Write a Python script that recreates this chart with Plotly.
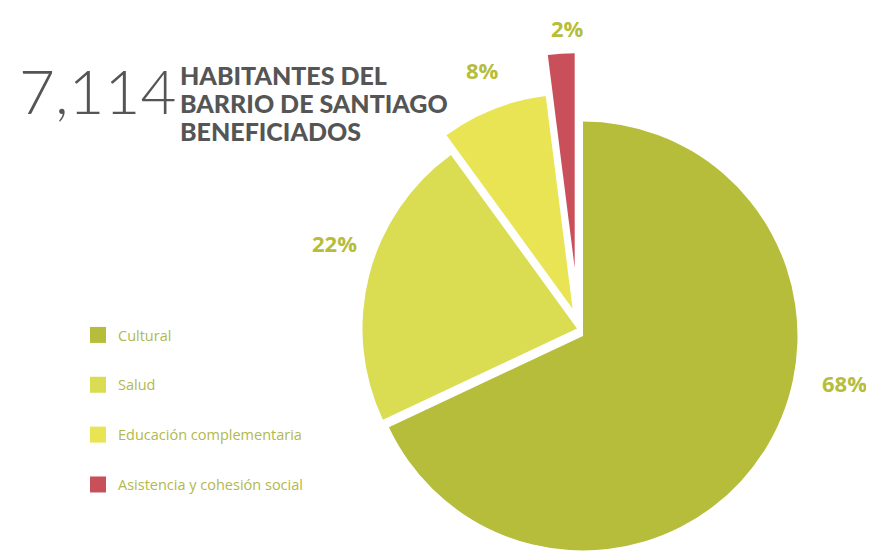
import plotly.graph_objects as go

# ---- data ----
CATEGORIES = ["Cultural", "Salud", "Educación complementaria", "Asistencia y cohesión social"]
VALUES = [68, 22, 8, 2]
COLORS = ["#b6bd3b", "#dadc51", "#e9e454", "#c9505a"]
TOTAL_LABEL = "7,114"
TITLE_LINES = ["HABITANTES DEL", "BARRIO DE SANTIAGO", "BENEFICIADOS"]

# ---- layout constants (pixels, in window coordinates) ----
W, H = 874, 551
PAGE_OFFSET = 8          # default body margin of the page
PIE_CENTER = (583, 336)
PIE_R = 214.5
SLICE_SHIFT = [(0, 0), (-6, -7.5), (-10.4, -27.3), (-8.3, -68.2)]
LABEL_POS = [(844, 383), (334, 243), (482, 70), (567, 28)]
TRANSPARENT = "rgba(0,0,0,0)"


def px_x(x):
    return (x - PAGE_OFFSET) / W


def px_y(y):
    return 1 - (y - PAGE_OFFSET) / H


fig = go.Figure()

# one pie per category (same values so angles match), only its own slice painted,
# each drawn around its own (pulled-out) center
for i, cat in enumerate(CATEGORIES):
    dx, dy = SLICE_SHIFT[i]
    cx, cy = PIE_CENTER[0] + dx, PIE_CENTER[1] + dy
    cols = [COLORS[j] if j == i else TRANSPARENT for j in range(len(CATEGORIES))]
    fig.add_trace(go.Pie(
        labels=CATEGORIES,
        values=VALUES,
        sort=False,
        direction="clockwise",
        rotation=0,
        marker=dict(colors=cols, line=dict(width=0)),
        textinfo="none",
        hoverinfo="skip",
        showlegend=False,
        domain=dict(x=[px_x(cx - PIE_R), px_x(cx + PIE_R)],
                    y=[px_y(cy + PIE_R), px_y(cy - PIE_R)]),
    ))

# legend entries
for cat, col in zip(CATEGORIES, COLORS):
    fig.add_trace(go.Scatter(
        x=[None], y=[None], mode="markers", name=cat, legendgroup=cat,
        marker=dict(symbol="square", size=16, color=col),
    ))

annotations = []
total = sum(VALUES)
for v, (lx, ly) in zip(VALUES, LABEL_POS):
    annotations.append(dict(
        x=px_x(lx), y=px_y(ly), xref="paper", yref="paper",
        text=f"{round(100 * v / total)}%", showarrow=False,
        xanchor="center", yanchor="middle",
        font=dict(family="Open Sans", size=22, color="#b6bd3b", weight="bold"),
    ))

annotations.append(dict(
    x=px_x(17), y=px_y(90), xref="paper", yref="paper", text=TOTAL_LABEL,
    showarrow=False, xanchor="left", yanchor="middle",
    font=dict(family="Lato", size=62, color="#555555", weight=300),
))
for k, line in enumerate(TITLE_LINES):
    annotations.append(dict(
        x=px_x(178), y=px_y(75 + 28 * k), xref="paper", yref="paper", text=line,
        showarrow=False, xanchor="left", yanchor="middle",
        font=dict(family="Lato", size=25, color="#555555", weight=900),
    ))

fig.update_layout(
    width=W, height=H,
    margin=dict(l=0, r=0, t=0, b=0),
    paper_bgcolor="white", plot_bgcolor="white",
    xaxis=dict(visible=False), yaxis=dict(visible=False),
    legend=dict(
        x=px_x(78), y=px_y(319), xanchor="left", yanchor="top",
        font=dict(family="Open Sans", size=14.5, color="#b2b84c"),
        tracegroupgap=28, bgcolor="rgba(0,0,0,0)",
    ),
    annotations=annotations,
)

fig.write_html("out.html")
